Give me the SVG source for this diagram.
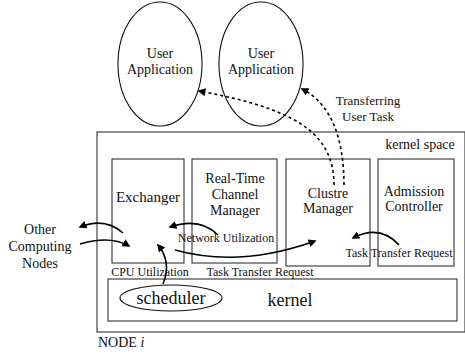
<svg xmlns="http://www.w3.org/2000/svg" width="465" height="358" viewBox="0 0 465 358">
<style>
text{font-family:"Liberation Serif","Times New Roman",serif;fill:#111;text-anchor:middle}
.box{fill:none;stroke:#444;stroke-width:1.2}
.ell{fill:none;stroke:#111;stroke-width:1.1}
.c{fill:none;stroke:#000;stroke-width:1.6}
.d{fill:none;stroke:#000;stroke-width:1.6;stroke-dasharray:3,3}
.t15{font-size:15px}
.t14{font-size:14px}
.t13{font-size:13px}
.t12{font-size:12px}
.t17{font-size:18px}
</style>
<defs>
<marker id="ah" viewBox="0 0 10 10" refX="8" refY="5" markerWidth="5" markerHeight="5" orient="auto" markerUnits="strokeWidth">
<path d="M0,0 L10,5 L0,10 z" fill="#000"/>
</marker>
</defs>
<rect width="465" height="358" fill="#fff"/>
<g id="userapp1"><ellipse class="ell" cx="160" cy="64" rx="42" ry="62"/><text class="t14" x="160" y="58">User</text><text class="t14" x="160" y="74">Application</text></g>
<g id="userapp2"><ellipse class="ell" cx="261" cy="64" rx="42" ry="62"/><text class="t14" x="261" y="58">User</text><text class="t14" x="261" y="74">Application</text></g>
<g id="node"><rect class="box" x="97" y="132" width="368" height="200"/><text class="t14" x="420" y="149">kernel space</text><text class="t14" x="98" y="347" style="text-anchor:start">NODE <tspan font-style="italic">i</tspan></text></g>
<g id="exchanger"><rect class="box" x="112" y="159" width="72" height="104"/><text class="t15" x="148" y="202">Exchanger</text></g>
<g id="rtcm"><rect class="box" x="192" y="159" width="85" height="104"/><text class="t14" x="235" y="183">Real-Time</text><text class="t14" x="235" y="199">Channel</text><text class="t14" x="235" y="215">Manager</text></g>
<g id="clustre"><rect class="box" x="286" y="159" width="84" height="107"/><text class="t14" x="328" y="198">Clustre</text><text class="t14" x="328" y="213">Manager</text></g>
<g id="admission"><rect class="box" x="378" y="159" width="76" height="107"/><text class="t14" x="414" y="196">Admission</text><text class="t14" x="414" y="211">Controller</text></g>
<g id="kernel"><rect class="box" x="108" y="279" width="349" height="42"/><text class="t17" x="290" y="306">kernel</text></g>
<g id="scheduler"><ellipse class="ell" cx="171" cy="298" rx="51" ry="13"/><text class="t17" x="171" y="304">scheduler</text></g>
<g id="other"><text class="t14" x="40" y="234">Other</text><text class="t14" x="40" y="251">Computing</text><text class="t14" x="40" y="268">Nodes</text></g>
<g id="labels">
<text class="t13" x="368" y="105">Transferring</text><text class="t13" x="368" y="121">User Task</text>
<text class="t12" x="150" y="276">CPU Utilization</text>
<text class="t12" x="260" y="276">Task Transfer Request</text>
<text class="t12" x="226" y="242">Network Utilization</text>
<text class="t12" x="399" y="257">Task Transfer Request</text>
</g>
<g id="connectors">
<path class="d" d="M334,185 C334,130 290,108 199,91" marker-end="url(#ah)"/>
<path class="d" d="M344,185 C344,140 332,104 302,89" marker-end="url(#ah)"/>
<path class="c" d="M123,233 Q105,217 80,227" marker-end="url(#ah)"/>
<path class="c" d="M80,244 Q110,235 129,246" marker-end="url(#ah)"/>
<path class="c" d="M163,284 Q172,262 158,245" marker-end="url(#ah)"/>
<path class="c" d="M218,235 Q200,217 170,227" marker-end="url(#ah)"/>
<path class="c" d="M175,250 Q240,268 315,241" marker-end="url(#ah)"/>
<path class="c" d="M399,245 Q380,224 353,238" marker-end="url(#ah)"/>
</g>
</svg>
